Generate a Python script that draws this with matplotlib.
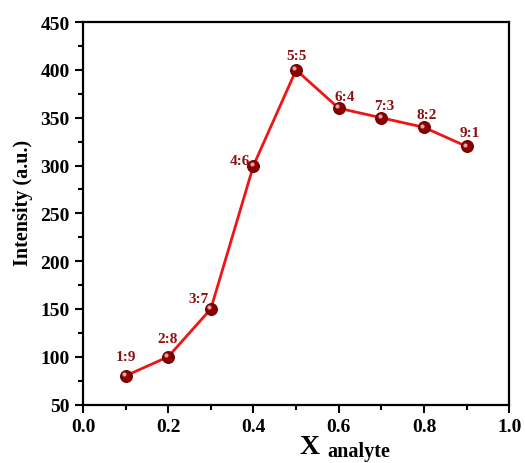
import matplotlib
matplotlib.use("Agg")
import matplotlib.pyplot as plt
import matplotlib.transforms as mtransforms
from matplotlib.ticker import MultipleLocator, FormatStrFormatter

x_frac = [0.1, 0.2, 0.3, 0.4, 0.5, 0.6, 0.7, 0.8, 0.9]
intensity = [80, 100, 150, 300, 400, 360, 350, 340, 320]
ratio_labels = ["1:9", "2:8", "3:7", "4:6", "5:5", "6:4", "7:3", "8:2", "9:1"]
label_offsets = [(0, 19), (-1, 18), (-12, 10), (-14, 5), (0, 14), (6, 12), (3, 12), (3, 13), (3, 14)]

plt.rcParams['font.family'] = ['Liberation Serif', 'DejaVu Serif']
plt.rcParams['font.weight'] = 'bold'

fig = plt.figure(figsize=(5.25, 4.64), dpi=100)
ax = fig.add_axes([0.158, 0.126, 0.812, 0.824])

ax.plot(x_frac, intensity, color='#f01515', lw=2, zorder=2)
ax.plot(x_frac, intensity, ls='none', marker='o', ms=8.5, mfc='#8b0000',
        mec='#6a0000', mew=0.8, zorder=3)
hl = ax.transData + mtransforms.ScaledTranslation(-1.8/100, 1.8/100, fig.dpi_scale_trans)
ax.plot(x_frac, intensity, ls='none', marker='o', ms=3, mfc='#e8a0a0',
        mec='none', transform=hl, zorder=4)

for xi, yi, lab, (dx, dy) in zip(x_frac, intensity, ratio_labels, label_offsets):
    ax.annotate(lab, (xi, yi), xytext=(dx, dy), textcoords='offset pixels',
                ha='center', va='center', fontsize=11, fontweight='bold',
                color='#8b1010')

ax.set_xlim(0.0, 1.0)
ax.set_ylim(50, 450)
ax.xaxis.set_major_locator(MultipleLocator(0.2))
ax.xaxis.set_minor_locator(MultipleLocator(0.1))
ax.yaxis.set_major_locator(MultipleLocator(50))
ax.yaxis.set_minor_locator(MultipleLocator(25))
ax.xaxis.set_major_formatter(FormatStrFormatter('%.1f'))

ax.tick_params(which='major', direction='out', length=6, width=1.5, labelsize=14)
ax.tick_params(which='minor', direction='out', length=3.5, width=1.5)
ax.tick_params(top=False, right=False)
for s in ax.spines.values():
    s.set_linewidth(1.6)
for lab in ax.get_xticklabels() + ax.get_yticklabels():
    lab.set_fontweight('bold')

fig.text(0.044, 0.5625, 'Intensity (a.u.)', rotation=90, ha='center', va='center',
         fontsize=14.5, fontweight='bold')
fig.text(0.589, 0.0216, 'X', ha='center', va='baseline', fontsize=20, fontweight='bold')
fig.text(0.683, 0.015, 'analyte', ha='center', va='baseline', fontsize=14.5, fontweight='bold')

fig.savefig('out.png', dpi=100)
